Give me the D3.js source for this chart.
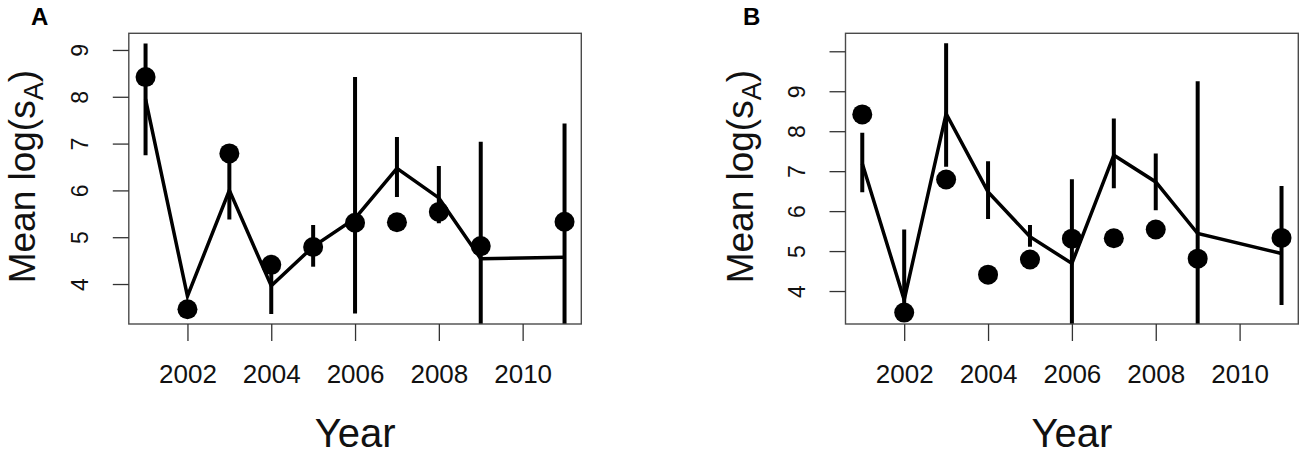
<!DOCTYPE html>
<html>
<head>
<meta charset="utf-8">
<script src="https://cdn.jsdelivr.net/npm/d3@7"></script>
<style>
  html, body { margin: 0; padding: 0; background: #fff; }
  svg { display: block; font-family: "Liberation Sans", Arial, sans-serif; }
</style>
</head>
<body>
<svg id="chart" width="1299" height="457"></svg>
<script>
// ---- data ----
const years = [2001, 2002, 2003, 2004, 2005, 2006, 2007, 2008, 2009, 2011];
const observed = [8.42, 3.46, 6.79, 4.41, 4.79, 5.31, 5.32, 5.54, 4.81, 5.33];

const fitA   = [7.95, 3.74, 6.00, 3.96, 4.80, 5.40, 6.47, 5.84, 4.54, 4.57];
const lowerA = [6.75, 3.74, 5.38, 3.36, 4.37, 3.37, 5.86, 5.30, 2.50, 2.50];
const upperA = [9.14, 3.74, 6.85, 4.50, 5.26, 8.42, 7.14, 6.52, 7.04, 7.43];

const fitB   = [7.19, 3.78, 8.44, 6.48, 5.36, 4.69, 7.40, 6.73, 5.44, 4.94];
const lowerB = [6.47, 3.50, 7.11, 5.80, 5.11, 2.50, 6.57, 6.02, 2.50, 3.65];
const upperB = [7.96, 5.54, 10.20, 7.25, 5.65, 6.80, 8.32, 7.44, 9.25, 6.63];

const xTicks = [2002, 2004, 2006, 2008, 2010];
const yTicksA = [4, 5, 6, 7, 8, 9];
const yTickLabelsA = ["4", "5", "6", "7", "8", "9"];
const yTicksB = [4, 5, 6, 7, 8, 9, 10];
const yTickLabelsB = ["4", "5", "6", "7", "8", "9", ""];
const xDomain = [2000.6, 2011.4];
const yDomainA = [3.146, 9.356];
const yDomainB = [3.175, 10.45];

const svg = d3.select("#chart");

function drawPanel(p) {
  const g = svg.append("g");
  const x = d3.scaleLinear().domain(xDomain).range([p.left, p.right]);
  const y = d3.scaleLinear().domain(p.yDomain).range([p.bottom, p.top]);

  const clipId = "clip" + p.label;
  svg.append("defs").append("clipPath").attr("id", clipId)
    .append("rect").attr("x", p.left).attr("y", p.top)
    .attr("width", p.right - p.left).attr("height", p.bottom - p.top);

  const rows = years.map((yr, i) => ({yr, obs: observed[i], fit: p.fit[i], lo: p.lower[i], hi: p.upper[i]}));

  const plot = g.append("g").attr("clip-path", `url(#${clipId})`);

  // fitted line
  plot.append("path")
    .datum(rows)
    .attr("fill", "none")
    .attr("stroke", "#000")
    .attr("stroke-width", 3.5)
    .attr("stroke-linejoin", "miter")
    .attr("d", d3.line().x(d => x(d.yr)).y(d => y(d.fit)));

  // error bars
  plot.selectAll(".eb").data(rows).enter().append("line")
    .attr("x1", d => x(d.yr)).attr("x2", d => x(d.yr))
    .attr("y1", d => y(d.lo)).attr("y2", d => y(d.hi))
    .attr("stroke", "#000").attr("stroke-width", 4);

  // observed points
  plot.selectAll(".pt").data(rows).enter().append("circle")
    .attr("cx", d => x(d.yr)).attr("cy", d => y(d.obs))
    .attr("r", 10).attr("fill", "#000");

  // box
  g.append("rect")
    .attr("x", p.left).attr("y", p.top)
    .attr("width", p.right - p.left).attr("height", p.bottom - p.top)
    .attr("fill", "none").attr("stroke", "#4a4a4a").attr("stroke-width", 1.4);

  // x axis
  const xa = g.append("g").attr("transform", `translate(0,${p.bottom})`)
    .call(d3.axisBottom(x).tickValues(xTicks).tickFormat(d3.format("d")).tickSize(17).tickPadding(0));
  xa.select(".domain").remove();
  xa.selectAll(".tick line").attr("stroke", "#333").attr("stroke-width", 1.3);
  xa.selectAll(".tick text").attr("font-size", 26).attr("fill", "#111")
    .attr("font-family", "'Liberation Sans', Arial, sans-serif")
    .attr("dy", null).attr("y", 59);

  // y axis
  const ya = g.append("g").attr("transform", `translate(${p.left},0)`)
    .call(d3.axisLeft(y).tickValues(p.yTicks).tickFormat((d, i) => p.yTickLabels[i]).tickSize(16).tickPadding(0));
  ya.select(".domain").remove();
  ya.selectAll(".tick line").attr("stroke", "#333").attr("stroke-width", 1.3);
  ya.selectAll(".tick text")
    .attr("font-size", 23).attr("fill", "#111")
    .attr("font-family", "'Liberation Sans', Arial, sans-serif")
    .attr("x", null).attr("dx", null).attr("dy", null).attr("y", 8)
    .attr("text-anchor", "middle")
    .attr("transform", "translate(-49,0) rotate(-90)");

  // axis titles
  g.append("text")
    .attr("x", (p.left + p.right) / 2).attr("y", 447)
    .attr("text-anchor", "middle").attr("font-size", 40).attr("fill", "#111")
    .text("Year");

  const yt = g.append("text")
    .attr("transform", `translate(${p.left - p.yTitleOffset},${(p.top + p.bottom) / 2 - 2}) rotate(-90)`)
    .attr("text-anchor", "middle").attr("font-size", 37).attr("fill", "#111");
  yt.append("tspan").text("Mean log(s");
  yt.append("tspan").attr("font-size", 27).attr("dy", 8).text("A");
  yt.append("tspan").attr("dy", -8).text(")");

  // panel label
  g.append("text")
    .attr("x", p.labelX).attr("y", 25)
    .attr("font-size", 24).attr("font-weight", "bold").attr("fill", "#000")
    .text(p.label);
}

drawPanel({label: "A", labelX: 31, left: 128.8, right: 581.3, top: 33.3, bottom: 324, yTitleOffset: 94,
  yDomain: yDomainA, yTicks: yTicksA, yTickLabels: yTickLabelsA,
  fit: fitA, lower: lowerA, upper: upperA});
drawPanel({label: "B", labelX: 743, left: 845.5, right: 1298.3, top: 33.3, bottom: 324, yTitleOffset: 93,
  yDomain: yDomainB, yTicks: yTicksB, yTickLabels: yTickLabelsB,
  fit: fitB, lower: lowerB, upper: upperB});
</script>
</body>
</html>
